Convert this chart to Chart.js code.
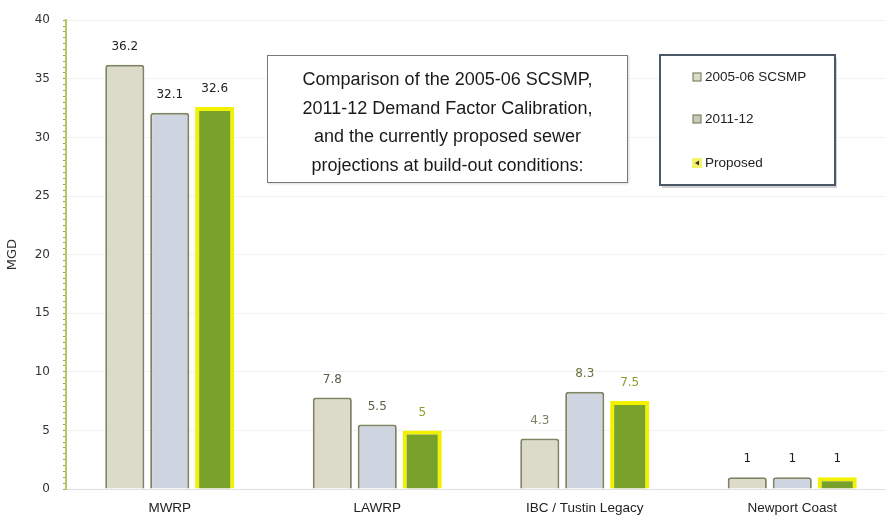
<!DOCTYPE html>
<html>
<head>
<meta charset="utf-8">
<script src="https://cdn.jsdelivr.net/npm/chart.js@4.4.1/dist/chart.umd.min.js"></script>
<style>
  html, body { margin: 0; padding: 0; background: #fff; overflow: hidden; }
  #wrap { position: relative; width: 900px; height: 518px; }
  #note {
    position: absolute; left: 267px; top: 55px; width: 361px; height: 128px;
    border: 1.5px solid #7a7a7a; background: #fff; box-sizing: border-box;
    font-family: "Liberation Sans", sans-serif; font-size: 18px; line-height: 28.5px;
    color: #1a1a1a; text-align: center; padding-top: 9px;
    box-shadow: 1px 1px 2px rgba(0,0,0,0.15);
  }
</style>
</head>
<body>
<div id="wrap">
  <canvas id="chart" width="900" height="518"></canvas>
  <div id="note">Comparison of the 2005-06 SCSMP,<br>2011-12 Demand Factor Calibration,<br>and the currently proposed sewer<br>projections at build-out conditions:</div>
</div>
<script>
var categories = ['MWRP', 'LAWRP', 'IBC / Tustin Legacy', 'Newport Coast'],
    seriesNames = ['2005-06 SCSMP', '2011-12', 'Proposed'],
    scsmp = [36.2, 7.8, 4.3, 1],
    calib = [32.1, 5.5, 8.3, 1],
    proposed = [32.6, 5, 7.5, 1],
    yTicks = [0, 5, 10, 15, 20, 25, 30, 35, 40];

var fills = ['#dcdac8', '#cfd5e0', '#79a22b'],
    borders = ['#7e8462', '#7e8462', '#f2f200'],
    labelColors = [
        ['#222', '#5e6048', '#7c8466', '#222'],
        ['#222', '#5e6048', '#6a7040', '#222'],
        ['#222', '#86a02a', '#86a02a', '#222']
    ];

var valueLabels = {
    id: 'valueLabels',
    afterDatasetsDraw: function(chart) {
        var ctx = chart.ctx;
        ctx.save();
        ctx.font = '12px "DejaVu Sans", sans-serif';
        ctx.textAlign = 'center';
        ctx.textBaseline = 'bottom';
        chart.data.datasets.forEach(function(ds, i) {
            chart.getDatasetMeta(i).data.forEach(function(bar, j) {
                ctx.fillStyle = labelColors[i][j];
                ctx.fillText(ds.data[j], bar.x, bar.y - 12);
            });
        });
        ctx.restore();
    }
};

var boxLegend = {
    id: 'boxLegend',
    afterDraw: function(chart) {
        var ctx = chart.ctx,
            x = 660, y = 55, w = 175, h = 130,
            rows = [77, 119, 163];
        ctx.save();
        ctx.fillStyle = 'rgba(0,0,0,0.18)';
        ctx.fillRect(x + 2, y + 3, w, h);
        ctx.fillStyle = '#fff';
        ctx.fillRect(x, y, w, h);
        ctx.strokeStyle = '#4a5868';
        ctx.lineWidth = 2;
        ctx.strokeRect(x, y, w, h);
        ctx.font = '13.5px "Liberation Sans", sans-serif';
        ctx.textBaseline = 'middle';
        chart.data.datasets.forEach(function(ds, i) {
            var ry = rows[i];
            if (i < 2) {
                ctx.fillStyle = i === 0 ? '#dcdac8' : '#c9cbb8';
                ctx.fillRect(693, ry - 4, 8, 8);
                ctx.strokeStyle = '#7e8462';
                ctx.lineWidth = 1.2;
                ctx.strokeRect(693, ry - 4, 8, 8);
            } else {
                ctx.fillStyle = '#f4f46a';
                ctx.fillRect(692, ry - 5, 10, 10);
                ctx.fillStyle = '#333';
                ctx.beginPath();
                ctx.moveTo(695, ry);
                ctx.lineTo(699, ry - 2.5);
                ctx.lineTo(699, ry + 2.5);
                ctx.fill();
            }
            ctx.fillStyle = '#222';
            ctx.fillText(ds.label, 705, ry);
        });
        ctx.restore();
    }
};

new Chart(document.getElementById('chart'), {
    type: 'bar',
    data: {
        labels: categories,
        datasets: [scsmp, calib, proposed].map(function(vals, i) {
            return {
                label: seriesNames[i],
                data: vals,
                backgroundColor: fills[i],
                borderColor: borders[i],
                borderWidth: i === 2 ? 4 : 2,
                borderRadius: i === 2 ? 0 : 3,
                borderSkipped: 'bottom',
                categoryPercentage: 0.65,
                barPercentage: 0.87
            };
        })
    },
    options: {
        responsive: false,
        animation: false,
        layout: { padding: { top: 18, right: 4, left: 0, bottom: 0 } },
        plugins: { legend: { display: false }, tooltip: { enabled: false } },
        scales: {
            x: {
                afterFit: function(s) { s.height = 29; },
                grid: { display: false },
                border: { color: 'rgba(0,0,0,0.08)' },
                ticks: { color: '#222', padding: 3, font: { family: '"Liberation Sans", sans-serif', size: 13.5 } }
            },
            y: {
                min: 0,
                max: 40,
                afterFit: function(s) { s.width = 66; },
                afterBuildTicks: function(s) {
                    var t = [];
                    for (var v = 0; v <= 40; v += 0.5) t.push({ value: v });
                    s.ticks = t;
                },
                ticks: {
                    autoSkip: false,
                    padding: 13,
                    color: '#333',
                    font: { family: '"DejaVu Sans", sans-serif', size: 12 },
                    callback: function(v) { return yTicks.indexOf(v) >= 0 ? v : ''; }
                },
                grid: {
                    tickLength: 3,
                    tickColor: '#98a64e',
                    color: function(c) { return yTicks.indexOf(c.tick.value) >= 0 ? 'rgba(0,0,0,0.05)' : 'rgba(0,0,0,0)'; }
                },
                border: { color: '#bcc660', width: 2 },
                title: {
                    display: true,
                    text: 'MGD',
                    color: '#333',
                    padding: 5,
                    font: { family: '"DejaVu Sans", sans-serif', size: 13 }
                }
            }
        }
    },
    plugins: [valueLabels, boxLegend]
});
</script>
</body>
</html>
